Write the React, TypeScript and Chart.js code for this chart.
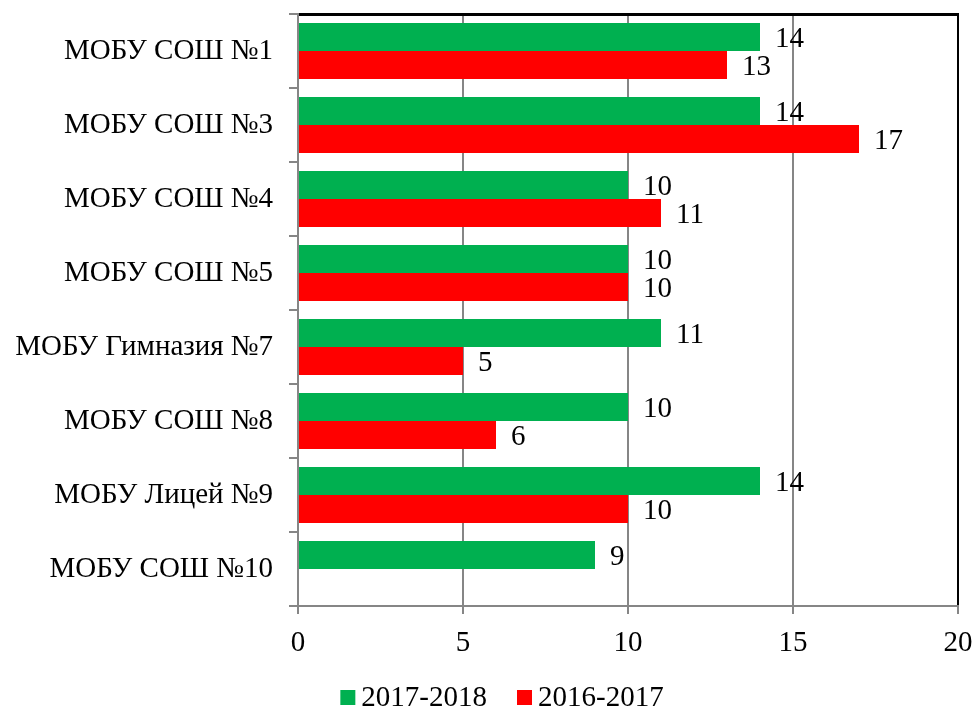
import React, { useEffect, useRef } from "react";
import { Chart, registerables } from "chart.js";

Chart.register(...registerables);

const categories = [
  "МОБУ СОШ №1",
  "МОБУ СОШ №3",
  "МОБУ СОШ №4",
  "МОБУ СОШ №5",
  "МОБУ Гимназия №7",
  "МОБУ СОШ №8",
  "МОБУ Лицей №9",
  "МОБУ СОШ №10",
];
const seriesNames = ["2017-2018", "2016-2017"];
const values2017 = [14, 14, 10, 10, 11, 10, 14, 9];
const values2016: (number | null)[] = [13, 17, 11, 10, 5, 6, 10, null];
const colors = ["#00B050", "#FF0000"];
const xMin = 0;
const xMax = 20;
const xStep = 5;

const FONT_FAMILY = '"Liberation Serif", "Times New Roman", serif';
const FONT_SIZE = 29;

function drawFrame(chart: any) {
  const ctx = chart.ctx;
  const a = chart.chartArea;
  const left = Math.round(a.left);
  const right = Math.round(a.right);
  const top = Math.round(a.top);
  const bottom = Math.round(a.bottom);
  ctx.save();
  ctx.fillStyle = "#000000";
  ctx.fillRect(left + 1, top - 1, right - left, 3);
  ctx.fillRect(right - 1, top - 1, 2, bottom - top);
  ctx.restore();
}

const dataLabelPlugin = {
  id: "dataLabels",
  afterDatasetsDraw(chart: any) {
    drawFrame(chart);
    const ctx = chart.ctx;
    ctx.save();
    ctx.font = `${FONT_SIZE}px ${FONT_FAMILY}`;
    ctx.fillStyle = "#000";
    ctx.textAlign = "left";
    ctx.textBaseline = "alphabetic";
    chart.data.datasets.forEach((ds: any, di: number) => {
      const meta = chart.getDatasetMeta(di);
      meta.data.forEach((el: any, i: number) => {
        const v = ds.data[i];
        if (v === null || v === undefined) return;
        ctx.fillText(String(v), el.x + 15, el.y + 10);
      });
    });
    ctx.restore();
  },
};

const frameAndLegendPlugin = {
  id: "frameLegend",
  afterDraw(chart: any) {
    drawFrame(chart);
    const ctx = chart.ctx;
    ctx.save();
    ctx.font = `${FONT_SIZE}px ${FONT_FAMILY}`;
    ctx.textAlign = "left";
    ctx.textBaseline = "alphabetic";
    const box = 15;
    const gapBoxText = 6;
    const gapItems = 30;
    const widths = seriesNames.map((n) => ctx.measureText(n).width);
    const total =
      widths.reduce((s, w) => s + box + gapBoxText + w, 0) +
      gapItems * (seriesNames.length - 1);
    let x = 502 - total / 2;
    const baseline = 706;
    seriesNames.forEach((n, i) => {
      ctx.fillStyle = colors[i];
      ctx.fillRect(x, baseline - 16, box, box);
      ctx.fillStyle = "#000";
      ctx.fillText(n, x + box + gapBoxText, baseline);
      x += box + gapBoxText + widths[i] + gapItems;
    });
    ctx.restore();
  },
};

export default function App() {
  const ref = useRef<HTMLCanvasElement | null>(null);

  useEffect(() => {
    if (!ref.current) return;
    const chart = new Chart(ref.current, {
      type: "bar",
      data: {
        labels: categories,
        datasets: [
          {
            label: seriesNames[0],
            data: values2017,
            backgroundColor: colors[0],
            borderWidth: 0,
            categoryPercentage: 0.757,
            barPercentage: 1,
          },
          {
            label: seriesNames[1],
            data: values2016,
            backgroundColor: colors[1],
            borderWidth: 0,
            categoryPercentage: 0.757,
            barPercentage: 1,
          },
        ],
      },
      options: {
        indexAxis: "y",
        responsive: false,
        animation: false,
        layout: { padding: { top: 14, right: 16, left: 0, bottom: 0 } },
        plugins: {
          legend: { display: false },
          tooltip: { enabled: false },
        },
        scales: {
          x: {
            min: xMin,
            max: xMax,
            ticks: {
              stepSize: xStep,
              color: "#000",
              font: { family: FONT_FAMILY, size: FONT_SIZE },
              padding: 12,
            },
            grid: {
              color: "#868686",
              lineWidth: 2,
              tickLength: 8,
              drawTicks: true,
            },
            border: { display: true, color: "#868686", width: 2 },
            afterFit: (s: any) => {
              s.height = 103;
              s.paddingLeft = 0;
              s.paddingRight = 0;
            },
          },
          y: {
            ticks: {
              color: "#000",
              font: { family: FONT_FAMILY, size: FONT_SIZE },
              padding: 16,
            },
            grid: {
              drawOnChartArea: false,
              drawTicks: true,
              tickLength: 9,
              color: "#868686",
              lineWidth: 2,
              offset: true,
            },
            border: { display: true, color: "#868686", width: 2 },
            afterFit: (s: any) => {
              s.width = 298;
              s.paddingTop = 0;
              s.paddingBottom = 0;
            },
          },
        },
      },
      plugins: [dataLabelPlugin, frameAndLegendPlugin],
    } as any);
    return () => chart.destroy();
  }, []);

  return (
    <div
      style={{
        position: "fixed",
        left: 0,
        top: 0,
        width: 974,
        height: 709,
        background: "#fff",
      }}
    >
      <canvas ref={ref} width={974} height={709} />
    </div>
  );
}
